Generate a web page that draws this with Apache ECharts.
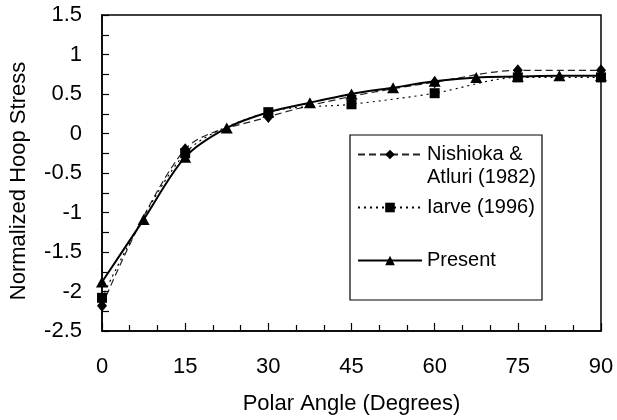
<!DOCTYPE html>
<html>

<head>
    <meta charset="utf-8">
    <script type="text/javascript" src="https://cdn.jsdelivr.net/npm/echarts@6/dist/echarts.min.js"></script>
    <title>Normalized Hoop Stress</title>
</head>

<body style="margin:0;">
    <div id="container" style="width:617px;height:420px;"></div>
    <script type="text/javascript">
    // 数据
    var nishiokaX = [0, 15, 30, 45, 60, 75, 90];
    var nishiokaY = [-2.18, -0.2, 0.21, 0.47, 0.65, 0.8, 0.8];

    var iarveX = [0, 15, 30, 45, 60, 75, 90];
    var iarveY = [-2.08, -0.25, 0.27, 0.37, 0.51, 0.71, 0.71];

    var presentX = [0, 7.5, 15, 22.5, 30, 37.5, 45, 52.5, 60, 67.5, 75, 82.5, 90];
    var presentY = [-1.88, -1.09, -0.3, 0.07, 0.27, 0.39, 0.5, 0.58, 0.66, 0.71, 0.72, 0.73, 0.73];

    var xTicks = [0, 15, 30, 45, 60, 75, 90];
    var yTicks = [-2.5, -2, -1.5, -1, -0.5, 0, 0.5, 1, 1.5];

    function pairs(xs, ys) {
        return xs.map(function(x, i) { return [x, ys[i]]; });
    }

    var myChart = echarts.init(document.getElementById('container'));

    var font = 'Liberation Sans';

    var option = {
        animation: false,
        backgroundColor: '#fff',
        textStyle: { fontFamily: font, color: '#000' },
        grid: {
            left: 101,
            right: 16,
            top: 15,
            bottom: 89,
            show: true,
            borderColor: '#000',
            borderWidth: 1.5
        },
        xAxis: {
            type: 'value',
            min: xTicks[0],
            max: xTicks[xTicks.length - 1],
            interval: 15,
            name: 'Polar Angle (Degrees)',
            nameLocation: 'middle',
            nameGap: 62,
            nameTextStyle: { fontSize: 22, color: '#000', fontFamily: font },
            axisLine: { onZero: false, lineStyle: { color: '#000', width: 1.5 } },
            axisTick: { inside: true, length: 8, lineStyle: { color: '#000', width: 1.2 } },
            minorTick: { show: true, splitNumber: 3, length: 6, lineStyle: { color: '#000', width: 1.2 } },
            axisLabel: { fontSize: 22, color: '#000', margin: 25, fontFamily: font },
            splitLine: { show: false }
        },
        yAxis: {
            type: 'value',
            min: yTicks[0],
            max: yTicks[yTicks.length - 1],
            interval: 0.5,
            name: 'Normalized Hoop Stress',
            nameLocation: 'middle',
            nameGap: 72,
            // 右侧留白让标题整体下移
            nameTextStyle: { fontSize: 22, color: '#000', fontFamily: font, padding: [0, 16, 0, 0] },
            axisLine: { onZero: false, lineStyle: { color: '#000', width: 1.5 } },
            axisTick: { inside: true, length: 7, lineStyle: { color: '#000', width: 1.2 } },
            minorTick: { show: true, splitNumber: 2, length: 7, lineStyle: { color: '#000', width: 1.2 } },
            axisLabel: { fontSize: 22, color: '#000', margin: 20, fontFamily: font },
            splitLine: { show: false }
        },
        // 图例外框
        graphic: [{
            type: 'rect',
            z: 3,
            shape: { x: 350, y: 135, width: 192, height: 165 },
            style: { fill: '#fff', stroke: '#000', lineWidth: 1.2 }
        }],
        legend: {
            orient: 'vertical',
            left: 357,
            top: 120,
            padding: 0,
            itemGap: -16,
            itemWidth: 64,
            itemHeight: 12,
            z: 5,
            textStyle: { fontSize: 20, lineHeight: 23, color: '#000', fontFamily: font },
            formatter: function(name) {
                if (name === 'Nishioka & Atluri (1982)') {
                    return '\nNishioka &\nAtluri (1982)';
                }
                return '\n' + name + '\n';
            },
            data: ['Nishioka & Atluri (1982)', 'Iarve (1996)', 'Present']
        },
        series: [{
            name: 'Nishioka & Atluri (1982)',
            type: 'line',
            smooth: 0.3,
            symbol: 'diamond',
            symbolSize: [10, 12],
            lineStyle: { color: '#222', width: 1.2, type: [7, 4] },
            itemStyle: { color: '#000' },
            data: pairs(nishiokaX, nishiokaY)
        }, {
            name: 'Iarve (1996)',
            type: 'line',
            smooth: 0.3,
            symbol: 'rect',
            symbolSize: 10,
            lineStyle: { color: '#000', width: 1.2, type: [2, 4] },
            itemStyle: { color: '#000' },
            data: pairs(iarveX, iarveY)
        }, {
            name: 'Present',
            type: 'line',
            smooth: 0.3,
            symbol: 'triangle',
            symbolSize: [12, 11],
            lineStyle: { color: '#000', width: 2 },
            itemStyle: { color: '#000' },
            data: pairs(presentX, presentY)
        }]
    };

    myChart.setOption(option);
    </script>
</body>

</html>
